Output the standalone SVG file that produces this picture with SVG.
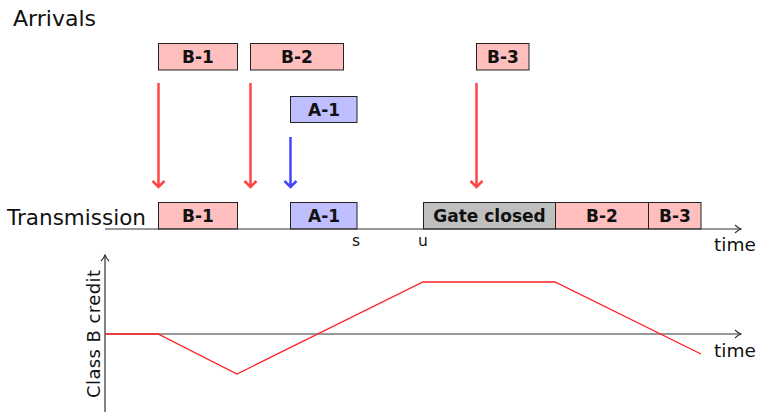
<svg xmlns="http://www.w3.org/2000/svg" width="758" height="412" viewBox="0 0 758 412">
  <style>
    .lbl { font-family: "DejaVu Sans", "Liberation Sans", sans-serif; fill: #111; }
    .box { stroke: #222; stroke-width: 1; }
    .b { fill: #ffbfbf; }
    .a { fill: #bfbfff; }
    .g { fill: #bfbfbf; }
    .bt { font-family: "DejaVu Sans", "Liberation Sans", sans-serif; font-weight: bold; font-size: 17px; fill: #111; text-anchor: middle; }
    .axis { stroke: #333; stroke-width: 1.2; fill: none; }
    .arr-r { stroke: #ff4545; stroke-width: 2.5; fill: none; }
    .arr-b { stroke: #4545ff; stroke-width: 2.5; fill: none; }
  </style>
  <defs>
    <marker id="ax" viewBox="0 0 10 10" refX="9" refY="5" markerWidth="10" markerHeight="10" markerUnits="userSpaceOnUse" orient="auto">
      <path d="M3,1 Q6,4 9,5 Q6,6 3,9" fill="none" stroke="#333" stroke-width="1.1"/>
    </marker>
  </defs>
  <rect width="758" height="412" fill="#fff"/>

  <!-- row captions -->
  <text class="lbl" x="13" y="26" font-size="22" textLength="83" lengthAdjust="spacingAndGlyphs">Arrivals</text>
  <text class="lbl" x="7" y="225" font-size="21.5" textLength="139" lengthAdjust="spacingAndGlyphs">Transmission</text>

  <!-- arrival frames -->
  <g id="arr-b1"><rect class="box b" x="158.5" y="43.5" width="79" height="26.5"/><text class="bt" x="198" y="63">B-1</text></g>
  <g id="arr-b2"><rect class="box b" x="250.5" y="43.5" width="93" height="26.5"/><text class="bt" x="297" y="63">B-2</text></g>
  <g id="arr-a1"><rect class="box a" x="290.5" y="96.5" width="66.5" height="26"/><text class="bt" x="324" y="116">A-1</text></g>
  <g id="arr-b3"><rect class="box b" x="476.5" y="43.5" width="52.5" height="26.5"/><text class="bt" x="503" y="63">B-3</text></g>

  <!-- transmitted frames -->
  <g id="tx-b1"><rect class="box b" x="158.5" y="202.5" width="79" height="26.5"/><text class="bt" x="198" y="222">B-1</text></g>
  <g id="tx-a1"><rect class="box a" x="290.5" y="202.5" width="66.5" height="26.5"/><text class="bt" x="324" y="222">A-1</text></g>
  <g id="tx-gate"><rect class="box g" x="423.5" y="202.5" width="132" height="26.5"/><text class="bt" x="489.5" y="222">Gate closed</text></g>
  <g id="tx-b2"><rect class="box b" x="555.5" y="202.5" width="93" height="26.5"/><text class="bt" x="602" y="222">B-2</text></g>
  <g id="tx-b3"><rect class="box b" x="648.5" y="202.5" width="52.5" height="26.5"/><text class="bt" x="675" y="222">B-3</text></g>

  <!-- connectors: arrival arrows and axes -->
  <g id="connectors">
    <path class="arr-r" d="M158.5,83 V187 M152.5,181 L158.5,187 L164.5,181"/>
    <path class="arr-r" d="M250.5,83 V187 M244.5,181 L250.5,187 L256.5,181"/>
    <path class="arr-r" d="M476.5,83 V187 M470.5,181 L476.5,187 L482.5,181"/>
    <path class="arr-b" d="M290.5,137 V187 M284.5,181 L290.5,187 L296.5,181"/>

    <line class="axis" x1="105" y1="229" x2="741" y2="229" marker-end="url(#ax)"/>
    <line class="axis" x1="105" y1="334" x2="741" y2="334" marker-end="url(#ax)"/>
    <line class="axis" x1="105" y1="412" x2="105" y2="255" marker-end="url(#ax)"/>
  </g>

  <!-- axis labels -->
  <text class="lbl" x="352" y="246" font-size="15.5">s</text>
  <text class="lbl" x="418" y="246" font-size="15.5">u</text>
  <text class="lbl" x="714" y="251" font-size="18.5">time</text>
  <text class="lbl" x="714" y="357" font-size="18.5">time</text>
  <text class="lbl" font-size="18" transform="translate(99.5,398) rotate(-90)" textLength="128" lengthAdjust="spacing">Class B credit</text>

  <!-- credit curve -->
  <polyline id="credit" points="105,334 158,334 237,374 423,282 555,282 701,354" fill="none" stroke="#ff2020" stroke-width="1.3"/>
</svg>
